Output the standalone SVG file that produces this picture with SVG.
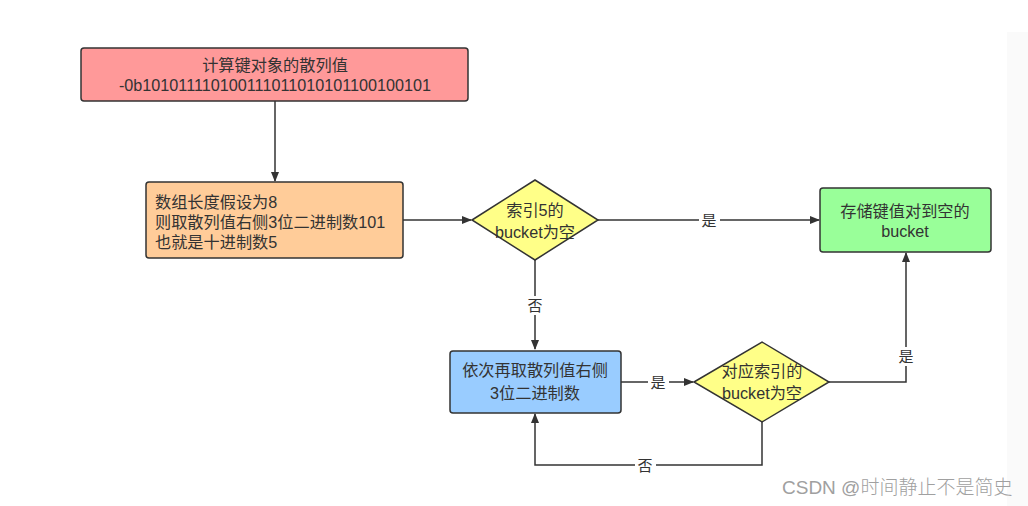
<svg xmlns="http://www.w3.org/2000/svg" width="1028" height="506" viewBox="0 0 1028 506">
<style>
text{font-family:"Liberation Sans","Noto Sans CJK SC",sans-serif;font-size:16.2px;fill:#333}
.c{text-anchor:middle}
.node{stroke:#333;stroke-width:1.5}
.edge{fill:none;stroke:#333;stroke-width:1.5}
.lbl{font-size:15px;text-anchor:middle}
.lblbg{fill:#fff}
</style>
<defs>
<marker id="arr" markerWidth="10" markerHeight="10" refX="9" refY="5" orient="auto" markerUnits="userSpaceOnUse">
<path d="M0,1 L10,5 L0,9 Z" fill="#333"/>
</marker>
</defs>
<rect x="0" y="0" width="1028" height="506" fill="#fff"/>
<rect x="1007" y="32" width="21" height="474" fill="#fafafa"/>
<g id="connectors">
<path class="edge" d="M275,101 V181" marker-end="url(#arr)"/>
<path class="edge" d="M403,220 H471" marker-end="url(#arr)"/>
<path class="edge" d="M598,220 H819" marker-end="url(#arr)"/>
<path class="edge" d="M535,260 V349" marker-end="url(#arr)"/>
<path class="edge" d="M621,382 H693" marker-end="url(#arr)"/>
<path class="edge" d="M829,382 H906 V253" marker-end="url(#arr)"/>
<path class="edge" d="M762,422 V465 H535 V414" marker-end="url(#arr)"/>
<rect class="lblbg" x="699" y="211" width="21" height="18"/>
<text class="lbl" x="709" y="226">是</text>
<rect class="lblbg" x="525" y="296" width="21" height="19"/>
<text class="lbl" x="535" y="311">否</text>
<rect class="lblbg" x="648" y="373" width="21" height="18"/>
<text class="lbl" x="658" y="388">是</text>
<rect class="lblbg" x="896" y="347" width="21" height="19"/>
<text class="lbl" x="906" y="362">是</text>
<rect class="lblbg" x="635" y="456" width="21" height="18"/>
<text class="lbl" x="645" y="471">否</text>
</g>
<g id="n1">
<rect class="node" x="81" y="48" width="387" height="53" rx="3" fill="#ff9999"/>
<text class="c" x="275" y="71">计算键对象的散列值</text>
<text class="c" x="275" y="91">-0b101011110100111011010101100100101</text>
</g>
<g id="n2">
<rect class="node" x="146" y="182" width="257" height="76" rx="3" fill="#ffcc99"/>
<text x="155" y="208">数组长度假设为8</text>
<text x="155" y="228">则取散列值右侧3位二进制数101</text>
<text x="155" y="248">也就是十进制数5</text>
</g>
<g id="n3">
<path class="node" d="M472,220 L535,180 L598,220 L535,260 Z" fill="#ffff88"/>
<text class="c" x="535" y="216">索引5的</text>
<text class="c" x="535" y="238">bucket为空</text>
</g>
<g id="n4">
<rect class="node" x="820" y="188" width="171" height="64" rx="3" fill="#99ff99"/>
<text class="c" x="905" y="217">存储键值对到空的</text>
<text class="c" x="905" y="237">bucket</text>
</g>
<g id="n5">
<rect class="node" x="450" y="351" width="171" height="62" rx="3" fill="#99ccff"/>
<text class="c" x="535" y="376">依次再取散列值右侧</text>
<text class="c" x="535" y="399">3位二进制数</text>
</g>
<g id="n6">
<path class="node" d="M694,382 L762,342 L829,382 L762,422 Z" fill="#ffff88"/>
<text class="c" x="762" y="377">对应索引的</text>
<text class="c" x="762" y="399">bucket为空</text>
</g>
<text x="782" y="494" style="font-size:19px;fill:#a0a0a0;font-weight:300">CSDN @时间静止不是简史</text>
</svg>
